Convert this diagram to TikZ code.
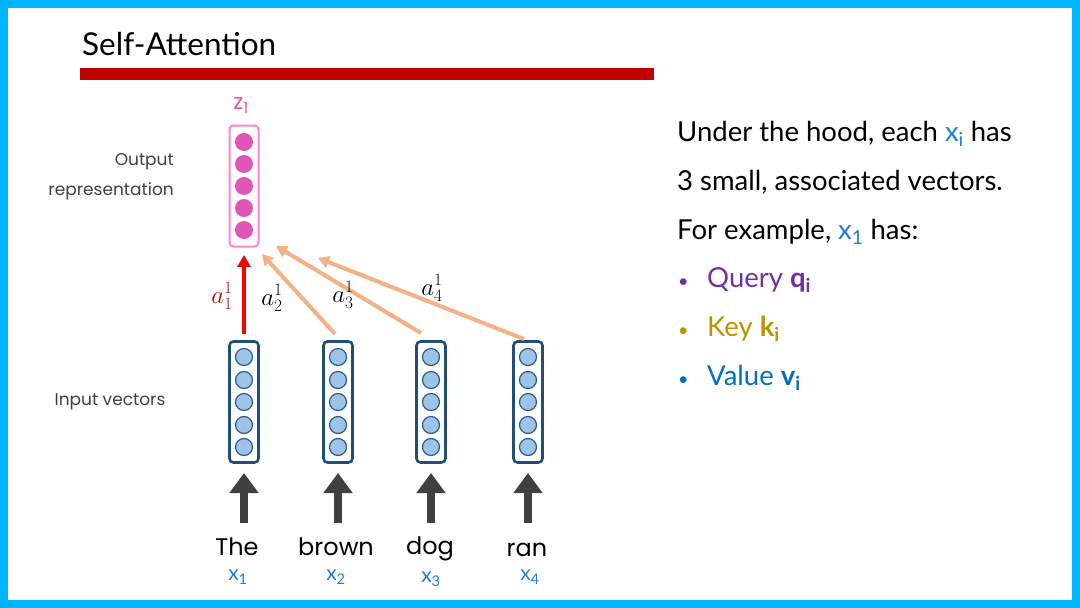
\documentclass[tikz,border=0pt]{standalone}
\usepackage{fontspec}
\setmainfont{Lato}
\newfontfamily\labfont{Poppins}
\usetikzlibrary{arrows.meta}
\definecolor{frame}{HTML}{00B4FF}
\definecolor{barred}{HTML}{C00000}
\definecolor{zpink}{HTML}{E055B5}
\definecolor{zpinkline}{HTML}{FF85D5}
\definecolor{cfill}{HTML}{9DC3E6}
\definecolor{cline}{HTML}{2E5C8A}
\definecolor{boxline}{HTML}{1F4E79}
\definecolor{orangearr}{HTML}{F4B183}
\definecolor{xblue}{HTML}{1E7FD8}
\definecolor{qpurple}{HTML}{7030A0}
\definecolor{kgold}{HTML}{BF9000}
\definecolor{vblue}{HTML}{0070C0}
\definecolor{darkgray}{HTML}{404040}
\tikzset{
  vecbox/.style={draw=boxline,line width=2.6pt,rounded corners=4pt,minimum width=29pt,minimum height=121pt,inner sep=0pt},
  outbox/.style={draw=zpinkline,line width=2pt,rounded corners=4pt,minimum width=29pt,minimum height=121pt,inner sep=0pt},
  incirc/.style={circle,draw=cline,line width=1.2pt,fill=cfill,minimum size=17pt,inner sep=0pt},
  outcirc/.style={circle,fill=zpink,minimum size=18pt,inner sep=0pt},
  inarrow/.style={draw=darkgray,line width=8pt,-{Triangle[width=28pt,length=20pt]}},
  attarrow/.style={draw=orangearr,line width=4pt,-{Triangle[width=12pt,length=11pt]}},
  word/.style={font=\labfont\fontsize{24}{28}\selectfont,text=black,inner sep=0pt},
  xlab/.style={font=\fontsize{21}{24}\selectfont,text=xblue,inner sep=0pt},
  sidelab/.style={font=\labfont\fontsize{17}{20}\selectfont,text=darkgray,inner sep=0pt},
  rtext/.style={font=\fontsize{27.5}{32}\selectfont,anchor=base west,inner sep=0pt},
  alab/.style={font=\fontsize{25}{28}\selectfont,inner sep=0pt}
}
\begin{document}
\begin{tikzpicture}[x=1pt,y=-1pt]
\useasboundingbox (0,0) rectangle (1080,608);
\fill[white] (0,0) rectangle (1080,608);
\draw[frame,line width=8pt] (4,4) rectangle (1076,604);
% title
\node[anchor=base west,inner sep=0pt,font=\fontsize{31.5}{36}\selectfont] (title) at (82,55) {Self-Attention};
\fill[barred] (80,68) rectangle (654,80);
% output vector
\node[outbox] (zbox) at (244,186) {};
\foreach \i/\y in {1/142,2/164,3/186,4/208,5/230}{
  \node[outcirc] (z\i) at (244,\y) {};
}
\node[font=\labfont\fontsize{22}{26}\selectfont,text=zpink,inner sep=0pt] (zlab) at (241,105) {z\textsubscript{1}};
% input vectors
\foreach \c/\x in {1/244,2/338,3/431,4/528}{
  \node[vecbox] (in\c) at (\x,402) {};
  \foreach \i/\y in {1/357,2/380,3/402,4/425,5/447}{
    \node[incirc] (c\c\i) at (\x,\y) {};
  }
  \coordinate (ab\c) at (\x,523);
  \coordinate (at\c) at (\x,473);
  \draw[inarrow] (ab\c) -- (at\c);
}
% words
\node[word] (w1) at (237,547) {The};
\node[word] (w2) at (336,547) {brown};
\node[word] (w3) at (430,549) {dog};
\node[word] (w4) at (527,550) {ran};
\node[xlab] (x1) at (238,577) {x\textsubscript{1}};
\node[xlab] (x2) at (336,577) {x\textsubscript{2}};
\node[xlab] (x3) at (431,579) {x\textsubscript{3}};
\node[xlab] (x4) at (530,577) {x\textsubscript{4}};
% attention arrows
\coordinate (s1) at (244,334);
\coordinate (e1) at (244,255);
\coordinate (s2) at (335,334);
\coordinate (s3) at (421,333);
\coordinate (s4) at (524,339);
\coordinate (e2) at (262,254);
\coordinate (e3) at (276,246);
\coordinate (e4) at (318,258);
\draw[draw=red,line width=3.5pt,-{Triangle[width=13pt,length=12pt]}] (s1) -- (e1);
\draw[attarrow] (s2) -- (e2);
\draw[attarrow] (s3) -- (e3);
\draw[attarrow] (s4) -- (e4);
\node[alab,text=barred] (a1) at (222,296) {$a_1^1$};
\node[alab] (a2) at (272,298) {$a_2^1$};
\node[alab] (a3) at (343,295) {$a_3^1$};
\node[alab] (a4) at (432,288) {$a_4^1$};
% side labels
\node[sidelab,anchor=east] (out1) at (174,162) {Output};
\node[sidelab,anchor=east] (out2) at (174,191) {representation};
\node[sidelab] (inv) at (110,402) {Input vectors};
% right text
\node[rtext] (r1) at (677,141) {Under the hood, each \textcolor{xblue}{x\textsubscript{i}} has};
\node[rtext] (r2) at (677,190) {3 small, associated vectors.};
\node[rtext] (r3) at (677,239) {For example, \textcolor{xblue}{x\textsubscript{1}} has:};
\node[rtext,text=qpurple] (r4) at (677,287) {\makebox[30pt][l]{\hspace{1pt}\fontsize{18}{20}\selectfont•}Query \textbf{q\textsubscript{i}}};
\node[rtext,text=kgold] (r5) at (677,336) {\makebox[30pt][l]{\hspace{1pt}\fontsize{18}{20}\selectfont•}Key \textbf{k\textsubscript{i}}};
\node[rtext,text=vblue] (r6) at (677,385) {\makebox[30pt][l]{\hspace{1pt}\fontsize{18}{20}\selectfont•}Value \textbf{v\textsubscript{i}}};
\end{tikzpicture}
\end{document}
